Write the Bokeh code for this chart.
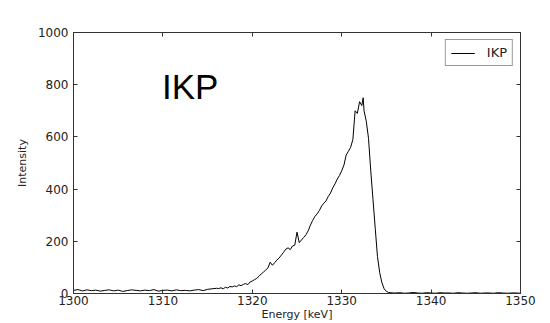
from bokeh.plotting import figure
from bokeh.models import FixedTicker, LinearAxis, Range1d, Label, CustomJSTickFormatter
from bokeh.embed import file_html
from bokeh.resources import INLINE

# --- data ---
energy = [
    1300.0, 1300.5, 1301.0, 1301.5, 1302.0, 1302.5, 1303.0, 1303.5, 1304.0, 1304.5,
    1305.0, 1305.5, 1306.0, 1306.5, 1307.0, 1307.5, 1308.0, 1308.5, 1309.0, 1309.5,
    1310.0, 1310.5, 1311.0, 1311.5, 1312.0, 1312.5, 1313.0, 1313.5, 1314.0, 1314.5,
    1315.0, 1315.5, 1316.0,
    1316.25, 1316.5, 1316.75, 1317.0, 1317.25, 1317.5, 1317.75, 1318.0, 1318.25, 1318.5,
    1318.75, 1319.0, 1319.25, 1319.5, 1319.75, 1320.0, 1320.25, 1320.5, 1320.75, 1321.0,
    1321.25, 1321.5, 1321.75, 1322.0, 1322.25, 1322.5, 1322.75, 1323.0, 1323.25, 1323.5,
    1323.75, 1324.0, 1324.25, 1324.5, 1324.75, 1325.0, 1325.25, 1325.5, 1325.75, 1326.0,
    1326.25, 1326.5, 1326.75, 1327.0, 1327.25, 1327.5, 1327.75, 1328.0, 1328.25, 1328.5,
    1328.75, 1329.0, 1329.25, 1329.5, 1329.75, 1330.0, 1330.25, 1330.5, 1330.75, 1331.0,
    1331.25, 1331.5, 1331.75, 1332.0, 1332.25, 1332.4, 1332.5, 1332.75, 1333.0, 1333.25,
    1333.5, 1333.75, 1334.0, 1334.25, 1334.5, 1334.75, 1335.0, 1335.25, 1335.5, 1335.75,
    1336.0,
    1336.5, 1337.0, 1337.5, 1338.0, 1338.5, 1339.0, 1339.5, 1340.0, 1340.5, 1341.0,
    1341.5, 1342.0, 1342.5, 1343.0, 1343.5, 1344.0, 1344.5, 1345.0, 1345.5, 1346.0,
    1346.5, 1347.0, 1347.5, 1348.0, 1348.5, 1349.0, 1349.5, 1350.0,
]
intensity = [
    12, 15, 10, 14, 11, 13, 9, 12, 14, 10,
    13, 8, 11, 14, 12, 10, 13, 11, 15, 9,
    12, 13, 10, 14, 11, 12, 10, 13, 15, 11,
    16, 18, 20,
    19, 22, 18, 24, 21, 27, 25, 29, 26, 33,
    30, 35, 38, 34, 44, 48, 53, 58, 66, 75,
    82, 90, 98, 120, 108, 118, 128, 136, 147, 158,
    170, 175, 168, 182, 185, 235, 195, 205, 215, 225,
    240, 262, 280, 295, 305, 318, 335, 346, 355, 372,
    385, 405, 420, 438, 452, 470, 492, 530, 545, 560,
    590, 700, 690, 735, 720, 750, 700, 660, 594, 470,
    360, 250, 142, 80, 41, 18, 8, 4, 3, 2,
    2,
    3, 1, 2, 4, 2, 1, 3, 2, 1, 3,
    2, 2, 1, 3, 2, 1, 2, 3, 1, 2,
    2, 1, 3, 2, 1, 2, 2, 1,
]
x_ticks = [1300, 1310, 1320, 1330, 1340, 1350]
y_ticks = [0, 200, 400, 600, 800, 1000]
series_name = "IKP"
x_label = "Energy [keV]"
y_label = "Intensity"

FONT = "DejaVu Sans"
TXT = "#222222"
AX = "#333333"

p = figure(width=548, height=323, output_backend="svg", toolbar_location=None,
           x_range=Range1d(1300, 1350), y_range=Range1d(0, 1000),
           min_border_left=73, min_border_top=32, min_border_right=28,
           min_border_bottom=29)
p.grid.visible = False
p.outline_line_color = AX
p.outline_line_width = 1
p.background_fill_color = "white"
p.border_fill_color = "white"

r = p.line(energy, intensity, line_color="black", line_width=1, legend_label=series_name)


def style_axis(ax, show_labels=True):
    ax.axis_line_color = AX
    ax.major_tick_line_color = AX
    ax.major_tick_in = 4
    ax.major_tick_out = 0
    ax.minor_tick_line_color = None
    ax.major_label_text_font = FONT
    ax.major_label_text_color = TXT
    ax.axis_label_text_font = FONT
    ax.axis_label_text_color = TXT
    ax.axis_label_text_font_style = "normal"
    ax.axis_label_text_font_size = "11px"
    ax.major_label_text_font_size = "12px"
    if not show_labels:
        ax.formatter = CustomJSTickFormatter(code="return '';")
        ax.major_label_standoff = 0


xa = p.xaxis[0]
ya = p.yaxis[0]
style_axis(xa)
style_axis(ya)
xa.ticker = FixedTicker(ticks=x_ticks)
ya.ticker = FixedTicker(ticks=y_ticks)
xa.axis_label = x_label
ya.axis_label = y_label
xa.major_label_standoff = 2
xa.axis_label_standoff = 0
ya.major_label_standoff = 5
ya.axis_label_standoff = 6

top = LinearAxis(ticker=FixedTicker(ticks=x_ticks))
right = LinearAxis(ticker=FixedTicker(ticks=y_ticks))
style_axis(top, False)
style_axis(right, False)
p.add_layout(top, "above")
p.add_layout(right, "right")

big = Label(x=1309.9, y=795, text="IKP", text_font="Liberation Sans",
            text_font_size="35px", text_color="black", text_baseline="alphabetic")
p.add_layout(big)

lg = p.legend[0]
lg.location = "top_right"
lg.margin = 7
lg.padding = 5
lg.spacing = 0
lg.glyph_width = 24
lg.glyph_height = 12
lg.label_height = 12
lg.label_standoff = 12
lg.label_text_font = FONT
lg.label_text_font_size = "13px"
lg.label_text_color = TXT
lg.border_line_color = AX
lg.border_line_width = 1
lg.background_fill_alpha = 1

open("out.html", "w").write(file_html(p, INLINE))
